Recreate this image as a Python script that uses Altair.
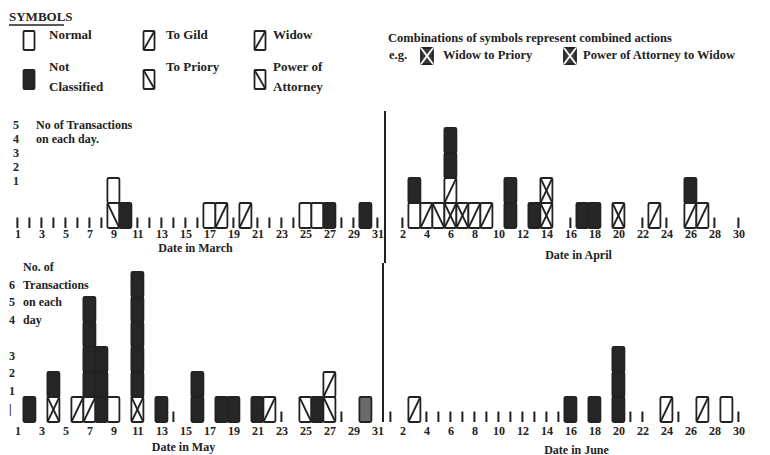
import altair as alt
import pandas as pd

# ------------------------------------------------------------------ data
# each stack lists the transaction kinds of one day, bottom to top
march_days = [9, 10, 17, 18, 20, 25, 26, 27, 30]
march_stacks = ["priory normal", "nc", "normal", "gild", "widow", "normal", "normal", "nc", "nc"]
march_ticks = [1, 2, 3, 4, 5, 6, 7, 8, 11, 12, 13, 14, 15, 16, 19, 21, 22, 23, 24, 28, 29, 31]
march_labels = [1, 3, 5, 7, 9, 11, 13, 15, 17, 19, 21, 23, 25, 27, 29, 31]

april_days = [3, 4, 5, 6, 7, 8, 9, 11, 13, 14, 17, 18, 20, 23, 26, 27]
april_stacks = ["normal nc", "gild", "priory", "combo widow nc nc", "combo", "widow", "gild",
                "nc nc", "nc", "combo combo", "nc", "nc", "combo", "gild", "widow nc", "widow"]
april_ticks = [2, 16, 22, 24, 28, 30]
april_labels = [2, 4, 6, 8, 10, 12, 14, 16, 18, 20, 22, 24, 26, 28, 30]

may_days = [2, 4, 6, 7, 8, 9, 11, 13, 16, 18, 19, 21, 22, 25, 26, 27, 30]
may_stacks = ["nc", "combo nc", "gild", "widow nc nc nc nc", "nc nc nc", "normal",
              "combo nc nc nc nc nc", "nc", "nc nc", "nc", "nc", "nc", "gild", "priory", "nc",
              "attorney widow", "faint"]
may_ticks = [14, 23, 28]
may_labels = [1, 3, 5, 7, 9, 11, 13, 15, 17, 19, 21, 23, 25, 27, 29, 31]

june_days = [3, 16, 18, 20, 24, 27, 29]
june_stacks = ["widow", "nc", "nc", "nc nc nc", "widow", "gild", "normal"]
june_ticks = [1, 4, 5, 6, 7, 8, 9, 10, 11, 12, 13, 14, 15, 21, 22, 25, 30]
june_labels = [2, 4, 6, 8, 10, 12, 14, 16, 18, 20, 22, 24, 26, 28, 30]

top_numbers = ["5", "4", "3", "2", "1"]
top_words = ["No of Transactions", "on each day."]
bottom_numbers_upper = ["6", "5", "4"]
bottom_numbers_lower = ["3", "2", "1", "|"]
bottom_words = ["No. of", "Transactions", "on each", "day"]

legend_kinds = ["normal", "gild", "widow", "nc", "priory", "attorney"]
legend_labels = ["Normal", "To Gild", "Widow", "Not\nClassified", "To Priory", "Power of\nAttorney"]
combo_labels = ["Widow to Priory", "Power of Attorney to Widow"]

# ------------------------------------------------------------------ style
FONT = "Liberation Serif"
INK = "#222222"
UNIT = 25
KINDS = ["normal", "nc", "gild", "widow", "priory", "attorney", "combo", "faint"]
FILLS = ["#ffffff", "#262626", "#ffffff", "#ffffff", "#ffffff", "#ffffff", "#ffffff", "#6b6b6b"]
SLASH = ["gild", "widow", "combo"]
BACK = ["priory", "attorney", "combo"]
PW = 372
LEG_DY = -100   # legend sits above the March panel


def blocks_df(days, stacks):
    rows = []
    for d, s in zip(days, stacks):
        for lvl, k in enumerate(s.split()):
            rows.append({"day": d, "level": lvl, "kind": k})
    return pd.DataFrame(rows)


def text_block(lines, x, y, size=12, lh=14):
    return alt.Chart(pd.DataFrame({"t": ["\n".join(lines)]})).mark_text(
        align="left", baseline="top", font=FONT, fontSize=size, fontWeight="bold",
        color=INK, lineBreak="\n", lineHeight=lh
    ).encode(text="t:N", x=alt.value(x), y=alt.value(y))


def vrule(x, y, y2, width=2):
    return alt.Chart(pd.DataFrame({"a": [0]})).mark_rule(stroke=INK, strokeWidth=width).encode(
        x=alt.value(x), y=alt.value(y), y2=alt.value(y2))


def icon(kind, cx, top, w, h, fill, line_color=INK):
    src = alt.Chart(pd.DataFrame({"k": [kind]}))
    x0, x1, y0, y1 = cx - w / 2, cx + w / 2, top, top + h
    out = [src.mark_rect(fill=fill, stroke=INK, strokeWidth=1.8, cornerRadius=1).encode(
        x=alt.value(x0), x2=alt.value(x1), y=alt.value(y0), y2=alt.value(y1))]
    if kind in SLASH:
        out.append(src.mark_rule(stroke=line_color, strokeWidth=1.8).encode(
            x=alt.value(x0), x2=alt.value(x1), y=alt.value(y1), y2=alt.value(y0)))
    if kind in BACK:
        out.append(src.mark_rule(stroke=line_color, strokeWidth=1.8).encode(
            x=alt.value(x0), x2=alt.value(x1), y=alt.value(y0), y2=alt.value(y1)))
    return out


def legend_layers(dy):
    layers = [text_block(["SYMBOLS"], 0, 2 + dy, size=13),
              alt.Chart(pd.DataFrame({"a": [0]})).mark_rule(stroke=INK, strokeWidth=1.5).encode(
                  x=alt.value(0), x2=alt.value(55), y=alt.value(16 + dy))]
    col_cx = [20, 140, 251]
    col_tx = [40, 157, 264]
    row_top = [22, 61]
    row_txt = [20, 52]
    fills = dict(zip(KINDS, FILLS))
    for i, (k, lab) in enumerate(zip(legend_kinds, legend_labels)):
        c, r = i % 3, i // 3
        layers += icon(k, col_cx[c], row_top[r] + dy, 11, 19, fills[k])
        layers.append(text_block(lab.split("\n"), col_tx[c], row_txt[r] + dy, size=13, lh=20))
    layers.append(text_block(["Combinations of symbols represent combined actions"], 379, 23 + dy, size=12.5))
    layers.append(text_block(["e.g."], 380, 40 + dy, size=12.5))
    for cx, tx, lab in zip([418, 561], [434, 574], combo_labels):
        layers += icon("combo", cx, 39 + dy, 12, 16, "#3a3a3a", line_color="#ffffff")
        layers.append(text_block([lab], tx, 40 + dy, size=12.5))
    return layers


def panel(days, stacks, ticks, labels, title, H, label_pad, title_pad, title_x, extras=()):
    xs = alt.Scale(domain=[0.3, 31.3], nice=False, zero=False)
    ys = alt.Scale(domain=[0, H / UNIT], nice=False, zero=False)
    ax = alt.Axis(values=labels, title=title, domain=False, ticks=False, tickSize=0, grid=False,
                  labelFont=FONT, labelFontSize=12, labelFontWeight="bold", labelColor=INK,
                  labelPadding=label_pad, labelFlush=False, labelOverlap=False, labelAngle=0,
                  titleFont=FONT, titleFontSize=12, titleFontWeight="bold", titleColor=INK,
                  titlePadding=title_pad, titleX=title_x, titleAlign="center")
    base = alt.Chart(blocks_df(days, stacks)).transform_calculate(
        x0="datum.day - 0.5", x1="datum.day + 0.5", y0="datum.level", y1="datum.level + 1")
    rect = base.mark_rect(stroke=INK, strokeWidth=1.8, cornerRadius=1.5).encode(
        x=alt.X("x0:Q", scale=xs, axis=ax), x2="x1:Q",
        y=alt.Y("y0:Q", scale=ys, axis=None), y2="y1:Q",
        fill=alt.Fill("kind:N", scale=alt.Scale(domain=KINDS, range=FILLS), legend=None))
    slash = base.transform_filter(alt.FieldOneOfPredicate(field="kind", oneOf=SLASH)).mark_rule(
        stroke=INK, strokeWidth=1.8).encode(
        x=alt.X("x0:Q", scale=xs, axis=ax), x2="x1:Q",
        y=alt.Y("y0:Q", scale=ys, axis=None), y2="y1:Q")
    back = base.transform_filter(alt.FieldOneOfPredicate(field="kind", oneOf=BACK)).mark_rule(
        stroke=INK, strokeWidth=1.8).encode(
        x=alt.X("x0:Q", scale=xs, axis=ax), x2="x1:Q",
        y=alt.Y("y1:Q", scale=ys, axis=None), y2="y0:Q")
    tk = alt.Chart(pd.DataFrame({"day": ticks})).transform_calculate(
        t0="0", t1="0.42").mark_rule(stroke=INK, strokeWidth=2).encode(
        x=alt.X("day:Q", scale=xs, axis=ax),
        y=alt.Y("t0:Q", scale=ys, axis=None), y2="t1:Q")
    return alt.layer(rect, slash, back, tk, *extras).properties(width=PW, height=H)


# ------------------------------------------------------------------ panels
H_TOP, H_BOT = 119, 159
LH = 17.7
march = panel(march_days, march_stacks, march_ticks, march_labels, "Date in March",
              H_TOP, 0, 3, 186,
              extras=[text_block(top_numbers, 4, 11, lh=14), text_block(top_words, 27, 11, lh=14)]
              + legend_layers(LEG_DY))
april = panel(april_days, april_stacks, april_ticks, april_labels, "Date in April",
              H_TOP, 0, 10, 196, extras=[vrule(3, 2, H_TOP + 35)])
may = panel(may_days, may_stacks, may_ticks, may_labels, "Date in May",
            H_BOT, 3, 5, 174,
            extras=[text_block(bottom_numbers_upper, 0, -1 + LH, lh=LH),
                    text_block(bottom_numbers_lower, 0, -1 + 5 * LH, lh=LH),
                    text_block(bottom_words, 14, -1, lh=LH)])
june = panel(june_days, june_stacks, june_ticks, june_labels, "Date in June",
             H_BOT, 3, 8, 194, extras=[vrule(1, 0, H_BOT)])

chart = alt.concat(march, april, may, june, columns=2,
                   spacing={"row": 35, "column": 1}, bounds="flush").properties(
    padding={"left": 0, "top": 3, "right": 0, "bottom": 0},
    background="white").configure_view(stroke=None)

chart.save("out.html", embed_options={"renderer": "svg", "actions": False})
